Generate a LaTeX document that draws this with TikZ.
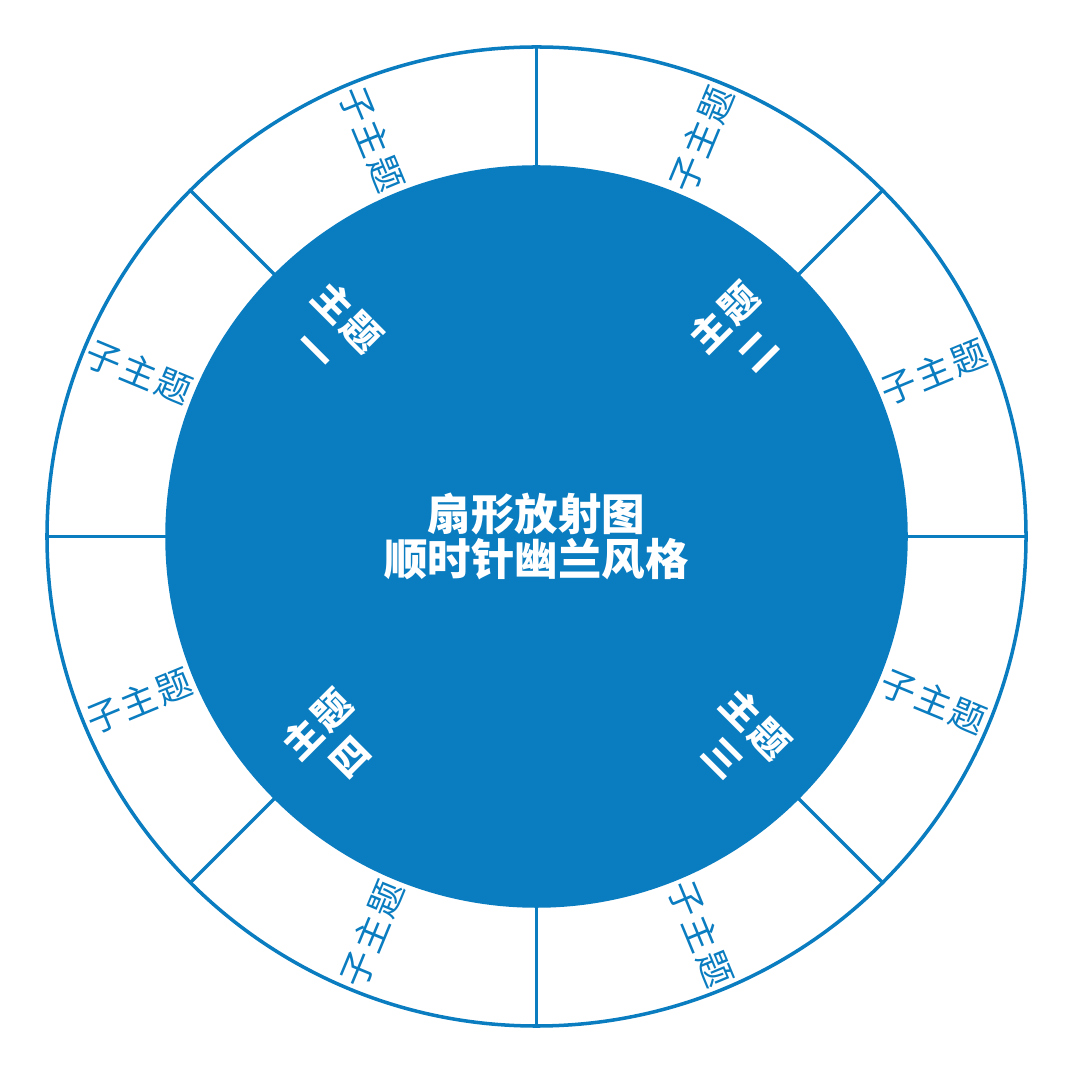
\documentclass[tikz,border=0pt]{standalone}
\usepackage{fontspec}
\newfontfamily\cjk{Noto Sans CJK SC}
\newfontfamily\cjksub[LetterSpace=6]{Noto Sans CJK SC}
\newfontfamily\cjktopic[LetterSpace=8]{Noto Sans CJK SC}
\definecolor{lanblue}{RGB}{10,124,192}
\begin{document}
\begin{tikzpicture}[
  ring/.style={circle, draw=lanblue, line width=1pt, inner sep=0pt, outer sep=0pt},
  spoke/.style={draw=lanblue, line width=1pt},
  sub/.style={text=lanblue, inner sep=0pt, font=\cjksub\fontsize{0.355cm}{0.4cm}\selectfont},
  topic/.style={text=white, inner sep=0pt, align=center, font=\cjktopic\bfseries\fontsize{0.38cm}{0.47cm}\selectfont},
  title/.style={text=white, inner sep=0pt, align=center, font=\cjk\bfseries\fontsize{0.435cm}{0.45cm}\selectfont}
]
\useasboundingbox (-5.365,-5.385) rectangle (5.385,5.365);
\node[ring, fill=white, minimum size=9.79cm] (outer) at (0,0) {};
\node[ring, fill=lanblue, minimum size=7.39cm] (inner) at (0,0) {};
\foreach \a in {0,45,...,315} {
  \draw[spoke] (inner.\a) -- (outer.\a);
}
% sub topics
\node[sub, rotate=22.5]  (s1) at (22.5:4.3)  {子主题};
\node[sub, rotate=67.5]  (s2) at (67.5:4.3)  {子主题};
\node[sub, rotate=-67.5] (s3) at (112.5:4.3) {子主题};
\node[sub, rotate=-22.5] (s4) at (157.5:4.3) {子主题};
\node[sub, rotate=22.5]  (s5) at (202.5:4.3) {子主题};
\node[sub, rotate=67.5]  (s6) at (247.5:4.3) {子主题};
\node[sub, rotate=-67.5] (s7) at (292.5:4.3) {子主题};
\node[sub, rotate=-22.5] (s8) at (337.5:4.3) {子主题};
% main topics
\node[topic, rotate=-45] (t1) at (135:2.88)  {主题\\一};
\node[topic, rotate=45]  (t2) at (45:2.88)   {主题\\二};
\node[topic, rotate=-45] (t3) at (-45:2.88)  {主题\\三};
\node[topic, rotate=45]  (t4) at (-135:2.88) {主题\\四};
% title
\node[title] (center) at (0,0) {扇形放射图\\顺时针幽兰风格};
\end{tikzpicture}
\end{document}
